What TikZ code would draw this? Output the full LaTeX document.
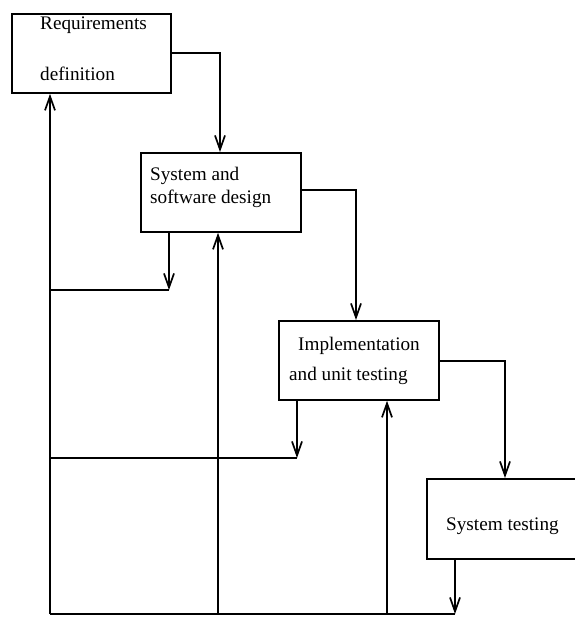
\documentclass[tikz,border=0pt]{standalone}
\usepackage{fontspec}
\setmainfont{Liberation Serif}
\usetikzlibrary{arrows.meta}
\begin{document}
\begin{tikzpicture}[x=1pt,y=-1pt,
  phasebox/.style={draw, line width=1.8pt, minimum width=160pt, minimum height=79pt, inner sep=0pt, anchor=north west},
  txt/.style={font=\fontsize{19.2}{22}\selectfont, inner sep=0pt, anchor=west},
  conn/.style={line width=1.7pt},
  arr/.style={conn, -{Straight Barb[length=14pt,width=10pt,line width=1.7pt]}}]
\useasboundingbox (0,0) rectangle (575,619);
\clip (0,0) rectangle (575,619);
% boxes
\node[phasebox, minimum width=159pt] (b1) at (11,13) {};
\node[phasebox] (b2) at (140,152) {};
\node[phasebox] (b3) at (278,320) {};
\node[phasebox, minimum height=80pt] (b4) at (426,478) {};
% texts
\node[txt] (t1a) at (40,25) {Requirements};
\node[txt] (t1b) at (40,74) {definition};
\node[txt] (t2a) at (150,176) {System and};
\node[txt] (t2b) at (150,199) {software design};
\node[txt] (t3a) at (298,346) {Implementation};
\node[txt] (t3b) at (289,376) {and unit testing};
\node[txt] (t4) at (446,526) {System testing};
% coordinates
\coordinate (c12) at (220,53);
\coordinate (c23) at (356,190);
\coordinate (c34) at (505,361);
\coordinate (f2) at (169,290);
\coordinate (f3) at (297,458);
\coordinate (f4) at (455,614);
\coordinate (bl) at (50,614);
\coordinate (bm) at (218,614);
\coordinate (br) at (387,614);
\coordinate (l2) at (50,290);
\coordinate (l3) at (50,458);
% forward flow
\draw[arr] (b1.east |- c12) -- (c12) -- (b2.north -| c12);
\draw[arr] (b2.east |- c23) -- (c23) -- (b3.north -| c23);
\draw[arr] (b3.east |- c34) -- (c34) -- (b4.north -| c34);
% downward arrows from boxes
\draw[arr] (b2.south -| f2) -- (f2);
\draw[arr] (b3.south -| f3) -- (f3);
\draw[arr] (b4.south -| f4) -- (f4);
% horizontal lines
\draw[conn] (l2) -- (f2);
\draw[conn] (l3) -- (f3);
\draw[conn] (bl) -- (f4);
% feedback arrows
\draw[arr] (bl) -- (b1.south -| bl);
\draw[arr] (bm) -- (b2.south -| bm);
\draw[arr] (br) -- (b3.south -| br);
\end{tikzpicture}
\end{document}
